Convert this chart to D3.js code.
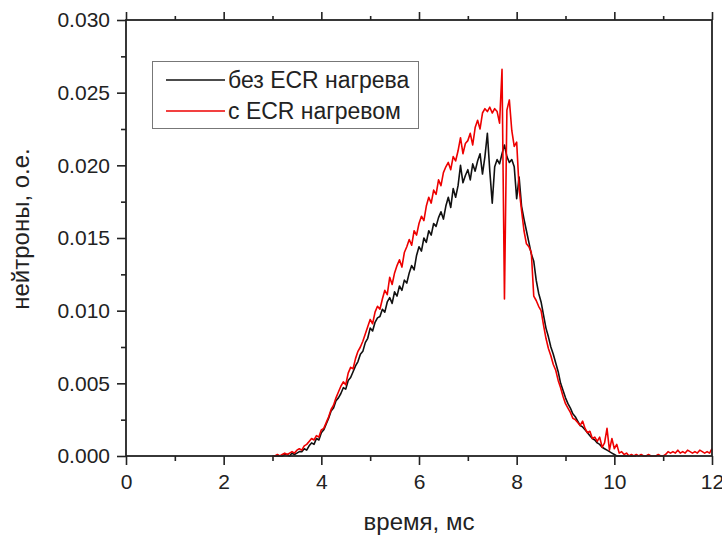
<!DOCTYPE html>
<html>
<head>
<meta charset="utf-8">
<script src="https://cdn.jsdelivr.net/npm/d3@7"></script>
<style>
  body { margin: 0; background: #fff; }
  text { font-family: "Liberation Sans", Arial, sans-serif; fill: #222; }
</style>
</head>
<body>
<div id="root"></div>
<script>
// time base of both records, ms
const tStart = 3.0;
const tStep = 0.05;

// neutrons without ECR heating (rows of 0.5 ms)
const withoutEcr = [
  0, 0, 0, 0, 0, 0.0001, 0.0001, 0, 0.0002, 0.0001,
  0.0002, 0.0003, 0.0003, 0.0005, 0.0004, 0.0007, 0.0009, 0.0008, 0.0012, 0.0011,
  0.0016, 0.0018, 0.0022, 0.0026, 0.0031, 0.0033, 0.0038, 0.0040, 0.0043, 0.0047,
  0.0046, 0.0052, 0.0054, 0.0058, 0.0062, 0.0065, 0.0070, 0.0072, 0.0078, 0.0081,
  0.0088, 0.0086, 0.0092, 0.0095, 0.0096, 0.0101, 0.0099, 0.0106, 0.0109, 0.0105,
  0.0113, 0.0110, 0.0117, 0.0114, 0.0121, 0.0119, 0.0126, 0.0131, 0.0128, 0.0138,
  0.0144, 0.0141, 0.0150, 0.0147, 0.0155, 0.0152, 0.0160, 0.0158, 0.0164, 0.0168,
  0.0163, 0.0172, 0.0178, 0.0171, 0.0184, 0.0178, 0.0186, 0.0200, 0.0188, 0.0193,
  0.0197, 0.0190, 0.0201, 0.0196, 0.0203, 0.0208, 0.0194, 0.0206, 0.0222, 0.0196,
  0.0174, 0.0199, 0.0204, 0.0201, 0.0208, 0.0214, 0.0206, 0.0202, 0.0204, 0.0199,
  0.0177, 0.0192, 0.0172, 0.0163, 0.0155, 0.0147, 0.0139, 0.0134, 0.0121, 0.0112,
  0.0106, 0.0097, 0.0088, 0.0082, 0.0075, 0.0070, 0.0064, 0.0058, 0.0050, 0.0045,
  0.0040, 0.0036, 0.0033, 0.0029, 0.0027, 0.0024, 0.0021, 0.0020, 0.0018, 0.0016,
  0.0014, 0.0012, 0.0011, 0.0009, 0.0008, 0.0006, 0.0005, 0.0004, 0.0003, 0.0002,
  0.0001, 0, 0, 0, 0, 0, 0, 0, 0, 0
];

// neutrons with ECR heating
const withEcr = [
  0, 0, 0.0001, 0, 0.0001, 0.0002, 0.0001, 0.0002, 0.0003, 0.0002,
  0.0004, 0.0005, 0.0004, 0.0007, 0.0008, 0.0010, 0.0012, 0.0011, 0.0014, 0.0013,
  0.0018, 0.0019, 0.0023, 0.0027, 0.0032, 0.0035, 0.0040, 0.0044, 0.0048, 0.0051,
  0.0049, 0.0057, 0.0061, 0.0060, 0.0067, 0.0072, 0.0075, 0.0079, 0.0084, 0.0089,
  0.0094, 0.0091, 0.0099, 0.0103, 0.0101, 0.0108, 0.0114, 0.0111, 0.0123, 0.0118,
  0.0126, 0.0131, 0.0135, 0.0130, 0.0140, 0.0144, 0.0149, 0.0145, 0.0155, 0.0152,
  0.0160, 0.0165, 0.0162, 0.0172, 0.0178, 0.0174, 0.0183, 0.0180, 0.0190, 0.0186,
  0.0195, 0.0199, 0.0202, 0.0197, 0.0206, 0.0203, 0.0210, 0.0219, 0.0208, 0.0215,
  0.0217, 0.0222, 0.0214, 0.0226, 0.0231, 0.0225, 0.0236, 0.0239, 0.0237, 0.0240,
  0.0236, 0.0239, 0.0237, 0.0229, 0.0266, 0.0108, 0.0238, 0.0245, 0.0224, 0.0213,
  0.0216, 0.0184, 0.0169, 0.0155, 0.0146, 0.0144, 0.0140, 0.0110, 0.0107, 0.0103,
  0.0100, 0.0090, 0.0081, 0.0074, 0.0069, 0.0063, 0.0059, 0.0052, 0.0047, 0.0041,
  0.0036, 0.0033, 0.0030, 0.0026, 0.0025, 0.0023, 0.0021, 0.0024, 0.0019, 0.0016,
  0.0017, 0.0012, 0.0013, 0.0010, 0.0013, 0.0006, 0.0009, 0.0019, 0.0004, 0.0012,
  0.0005, 0.0008, 0.0002, 0.0003, 0.0001, 0.0002, 0, 0.0001, 0, 0.0001,
  0, 0.0001, 0, 0, 0.0001, 0, 0, 0, 0.0001, 0,
  0, 0.0001, 0.0003, 0.0002, 0.0003, 0.0002, 0.0004, 0.0002, 0.0003, 0.0002,
  0.0004, 0.0003, 0.0002, 0.0003, 0.0002, 0.0004, 0.0003, 0.0002, 0.0003, 0.0002,
  0.0005
];

const seriesNames = ['без ECR нагрева', 'с ECR нагревом'];
const seriesColors = ['#111111', '#ee0000'];
const xMajorTicks = [0, 2, 4, 6, 8, 10, 12];
const xMinorTicks = [1, 3, 5, 7, 9, 11];
const yMajorTicks = [0, 0.005, 0.01, 0.015, 0.02, 0.025, 0.03];
const yMinorTicks = [0.0025, 0.0075, 0.0125, 0.0175, 0.0225, 0.0275];
const xTitle = 'время, мс';
const yTitle = 'нейтроны, о.е.';

const width = 722;
const height = 536;
const plotLeft = 126;
const plotRight = 712;
const plotTop = 20;
const plotBottom = 456;
const axisColor = '#222';

const svg = d3.select('#root')
  .append('svg')
  .attr('width', width)
  .attr('height', height);

const x = d3.scaleLinear().domain([0, 12]).range([plotLeft, plotRight]);
const y = d3.scaleLinear().domain([0, 0.03]).range([plotBottom, plotTop]);

function styleAxis(g) {
  g.select('.domain').remove();
  g.selectAll('.tick line').attr('stroke', axisColor).attr('stroke-width', 1.6);
  g.selectAll('.tick text')
    .attr('font-size', '21px')
    .attr('fill', '#222');
}

// bottom axis
svg.append('g')
  .attr('transform', `translate(0,${ plotBottom })`)
  .call(d3.axisBottom(x).tickValues(xMajorTicks).tickSize(9).tickPadding(9).tickFormat(d3.format('d')))
  .call(styleAxis);
svg.append('g')
  .attr('transform', `translate(0,${ plotBottom })`)
  .call(d3.axisBottom(x).tickValues(xMinorTicks).tickSize(5).tickFormat(''))
  .call(styleAxis);

// top axis, ticks only
svg.append('g')
  .attr('transform', `translate(0,${ plotTop })`)
  .call(d3.axisTop(x).tickValues(xMajorTicks).tickSize(8).tickFormat(''))
  .call(styleAxis);
svg.append('g')
  .attr('transform', `translate(0,${ plotTop })`)
  .call(d3.axisTop(x).tickValues(xMinorTicks).tickSize(4).tickFormat(''))
  .call(styleAxis);

// left axis
svg.append('g')
  .attr('transform', `translate(${ plotLeft },0)`)
  .call(d3.axisLeft(y).tickValues(yMajorTicks).tickSize(9).tickPadding(7).tickFormat(d3.format('.3f')))
  .call(styleAxis);
svg.append('g')
  .attr('transform', `translate(${ plotLeft },0)`)
  .call(d3.axisLeft(y).tickValues(yMinorTicks).tickSize(5).tickFormat(''))
  .call(styleAxis);

// curves
const line = d3.line()
  .x((_d, i) => x(tStart + (i * tStep)))
  .y((d) => y(d));

svg.selectAll('.curve')
  .data([withoutEcr, withEcr])
  .enter()
  .append('path')
  .attr('class', 'curve')
  .attr('d', (d) => line(d))
  .attr('fill', 'none')
  .attr('stroke', (_d, i) => seriesColors[i])
  .attr('stroke-width', 1.6)
  .attr('stroke-linejoin', 'round');

// frame
svg.append('rect')
  .attr('x', plotLeft)
  .attr('y', plotTop)
  .attr('width', plotRight - plotLeft)
  .attr('height', plotBottom - plotTop)
  .attr('fill', 'none')
  .attr('stroke', axisColor)
  .attr('stroke-width', 1.8);

// legend
svg.append('rect')
  .attr('x', 152.5)
  .attr('y', 61.5)
  .attr('width', 266)
  .attr('height', 67)
  .attr('fill', '#fff')
  .attr('stroke', '#777')
  .attr('stroke-width', 1);

const legend = svg.selectAll('.legend-item')
  .data(seriesNames)
  .enter()
  .append('g')
  .attr('class', 'legend-item')
  .attr('transform', (_d, i) => `translate(166,${ 80 + (i * 31) })`);

legend.append('line')
  .attr('x1', 0)
  .attr('x2', 59)
  .attr('stroke', (_d, i) => seriesColors[i])
  .attr('stroke-width', 1.6);

legend.append('text')
  .attr('x', 62)
  .attr('dy', '0.35em')
  .attr('font-size', '23px')
  .text((d) => d);

// axis titles
svg.append('text')
  .attr('x', (plotLeft + plotRight) / 2)
  .attr('y', 530)
  .attr('text-anchor', 'middle')
  .attr('font-size', '24px')
  .text(xTitle);

svg.append('text')
  .attr('transform', `translate(29,${ 229 }) rotate(-90)`)
  .attr('text-anchor', 'middle')
  .attr('font-size', '24px')
  .text(yTitle);
</script>
</body>
</html>
